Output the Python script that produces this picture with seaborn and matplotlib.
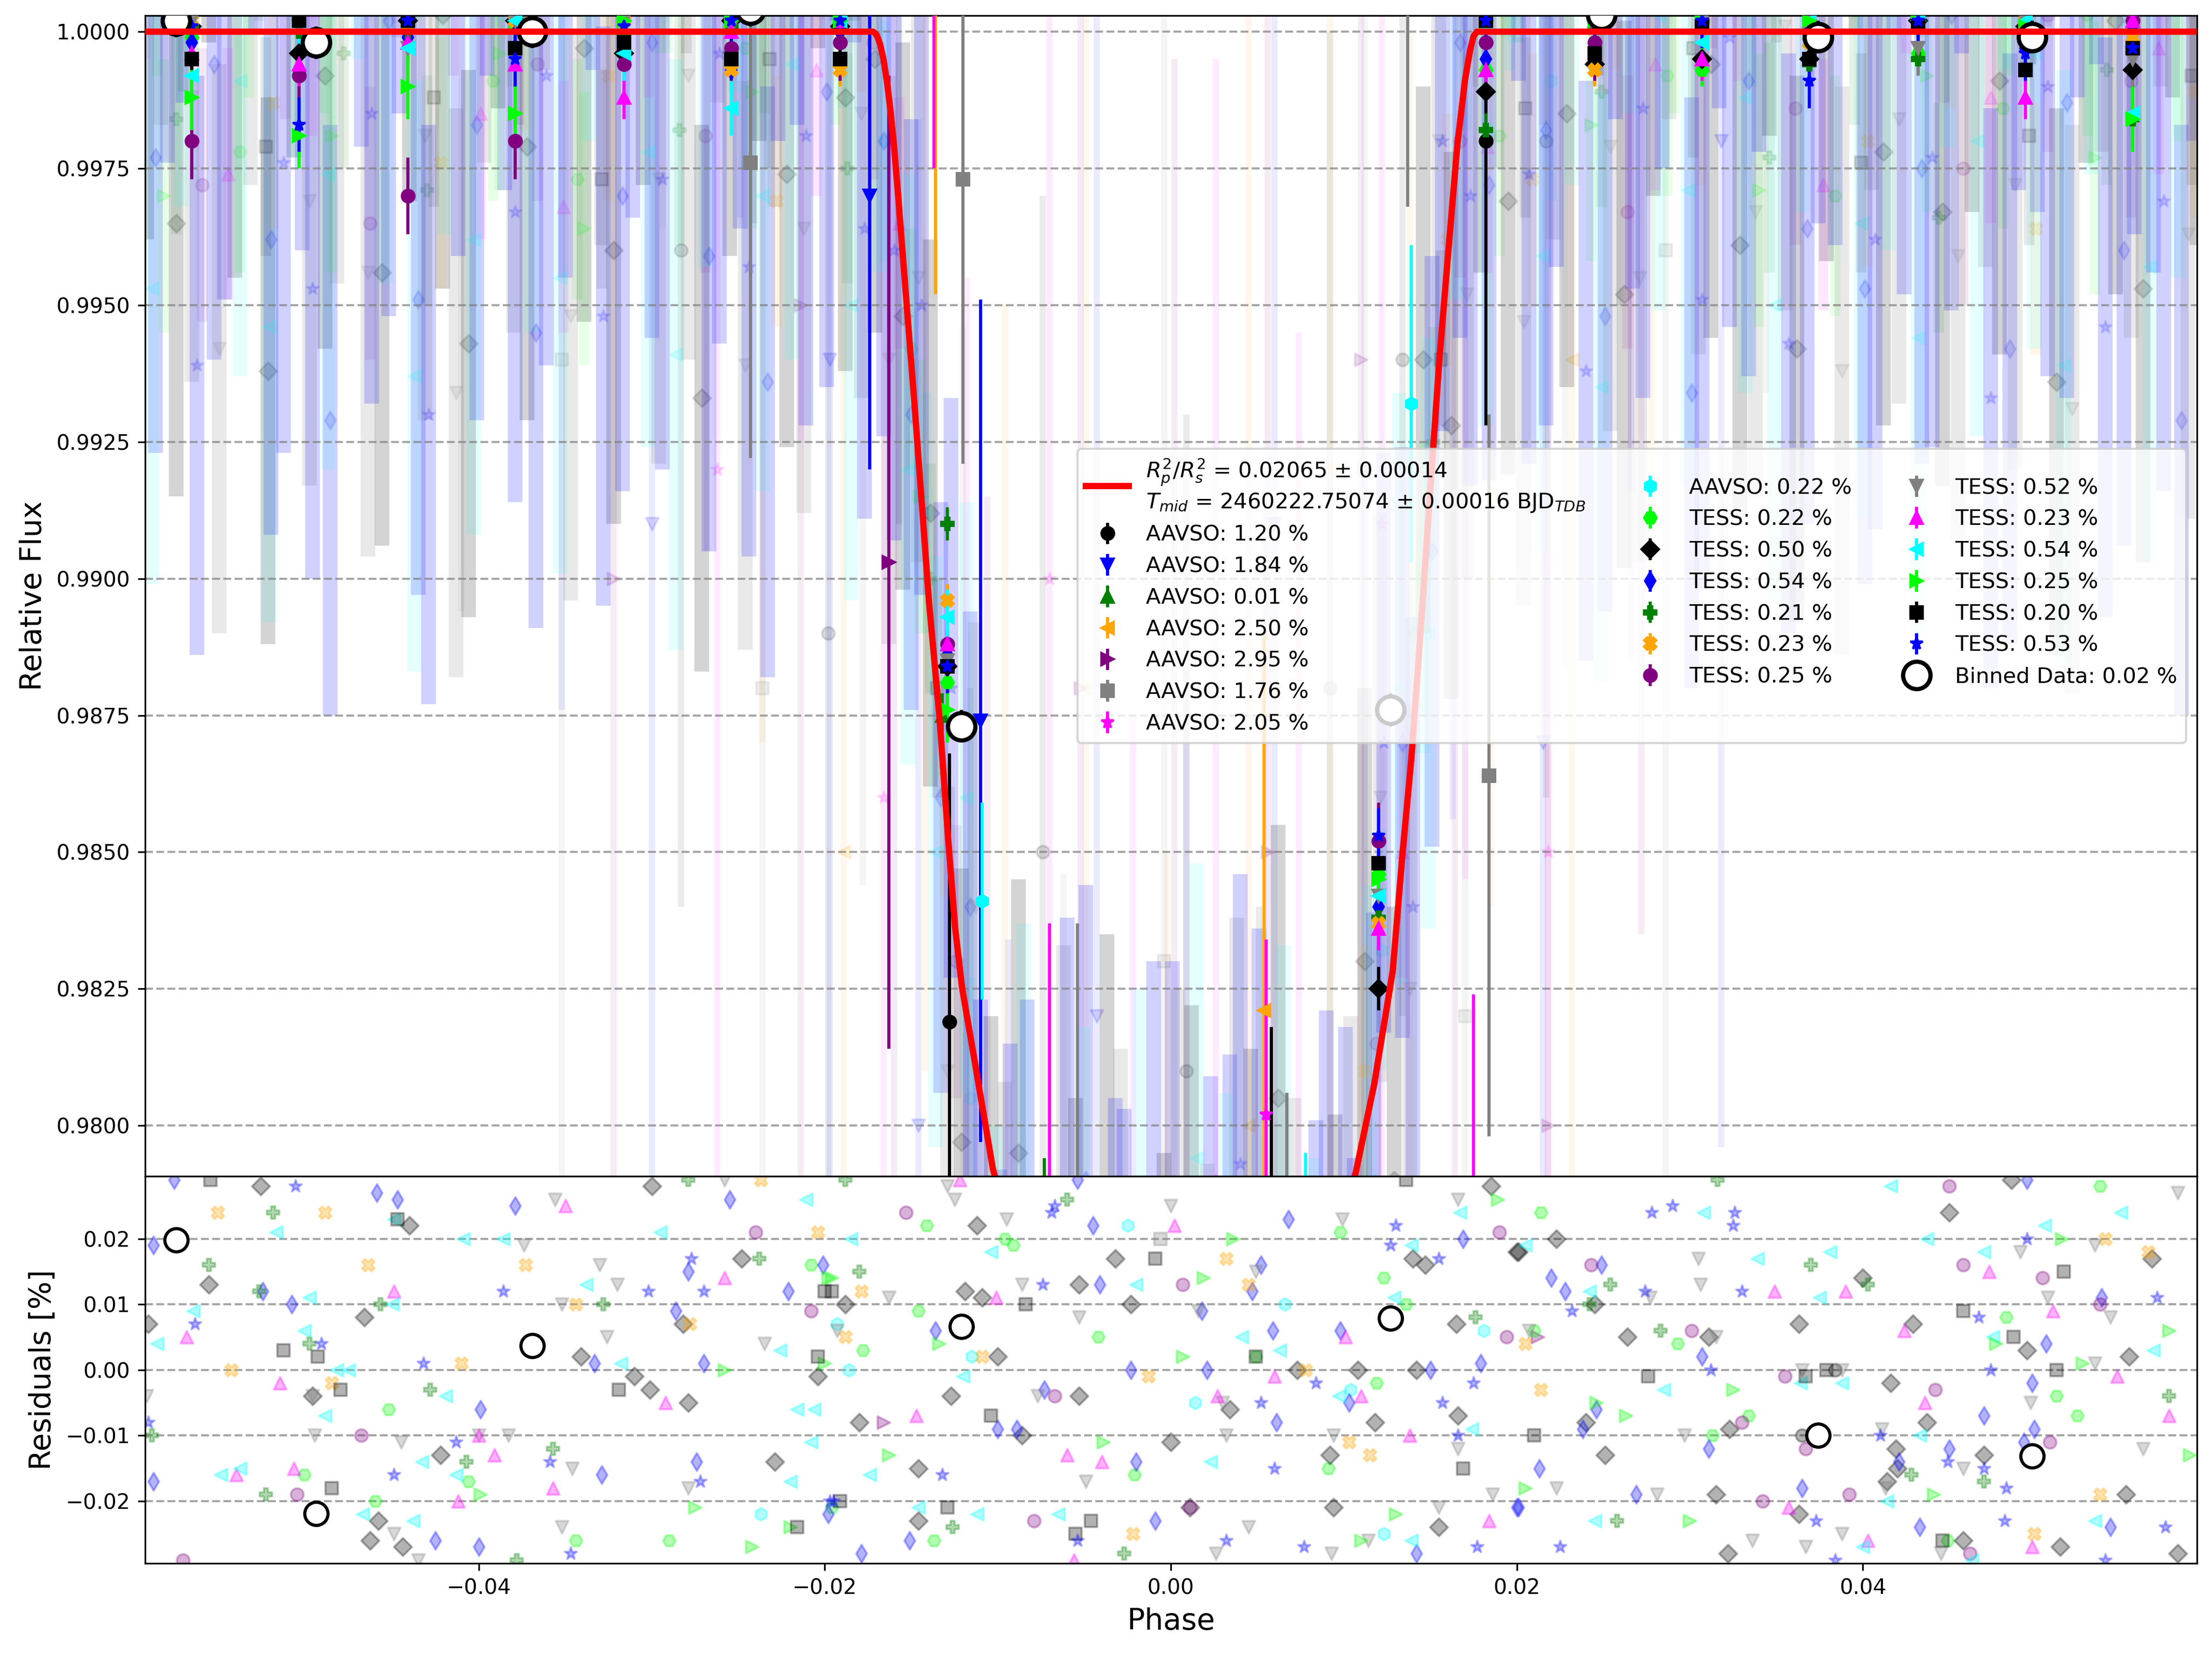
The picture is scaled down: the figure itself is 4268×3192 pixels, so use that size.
import matplotlib
matplotlib.use("Agg")
import matplotlib.pyplot as plt
from matplotlib.ticker import MultipleLocator
import numpy as np
import seaborn as sns

sns.set_style("ticks", {"axes.edgecolor": "black", "axes.labelcolor": "black",
                        "text.color": "black", "xtick.color": "black",
                        "ytick.color": "black", "axes.axisbelow": "line",
                        "lines.solid_capstyle": "projecting"})
plt.rcParams["font.family"] = ["DejaVu Sans"]
plt.rcParams["axes.linewidth"] = 0.8

# observations in legend order
obs_source = ["AAVSO"] * 8 + ["TESS"] * 12
obs_scatter = [1.20, 1.84, 0.01, 2.50, 2.95, 1.76, 2.05, 0.22, 0.22, 0.50,
               0.54, 0.21, 0.23, 0.25, 0.52, 0.23, 0.54, 0.25, 0.20, 0.53]
obs_marker = ['o', 'v', '^', '<', '>', 's', '*', 'h', 'H', 'D', 'd', 'P', 'X',
              'o', 'v', '^', '<', '>', 's', '*']
obs_color = ['black', 'blue', 'green', 'orange', 'purple', 'grey', 'magenta',
             'cyan', 'lime', 'black', 'blue', 'green', 'orange', 'purple',
             'grey', 'magenta', 'cyan', 'lime', 'black', 'blue']

fit_label = ("$R^2_p/R^2_s$ = 0.02065 ± 0.00014\n"
             "$T_{mid}$ = 2460222.75074 ± 0.00016 BJD$_{TDB}$")

# transit model
model_phase = [-0.0593, -0.0172, -0.0170, -0.0168, -0.0166, -0.0164, -0.0162,
               -0.0160, -0.01575, -0.01477, -0.01397, -0.01337, -0.01287,
               -0.01247, -0.01207, -0.01127, -0.01028, -0.0080, -0.0040, 0.0,
               0.0040, 0.0080, 0.01069, 0.01176, 0.01283, 0.01337, 0.01390,
               0.01444, 0.01497, 0.01551, 0.01605, 0.01657, 0.01701, 0.0173,
               0.0175, 0.0177, 0.0593]
model_flux = [1.0, 1.0, 0.99994, 0.99977, 0.99948, 0.99907, 0.99855, 0.99791,
              0.99696, 0.99300, 0.98955, 0.98746, 0.98524, 0.98363, 0.98253,
              0.98105, 0.97920, 0.9765, 0.9748, 0.9744, 0.9748, 0.9765, 0.97914,
              0.98076, 0.98283, 0.98489, 0.98670, 0.98904, 0.99150, 0.99395,
              0.99602, 0.99796, 0.99913, 0.99966, 0.99992, 1.0, 1.0]

# raw points: phase and flux offset, both in units of 1e-4
raw_ph_00 = [-283, -241, -198, -157, -116, -74, -33, 9, 51, 92, 134, 176, 217, 259]
raw_fx_00 = [-40, 85, -110, 30, -240, -150, -330, -190, -280, -120, -60, 110, -20, 70]
raw_ph_01 = [-352, -300, -249, -197, -146, -94, -43, 9, 60, 112, 163, 215, 266, 318]
raw_fx_01 = [60, -90, 150, -60, -200, -350, -180, -300, -90, -260, 40, -130, 100, -20]
raw_ph_03 = [-236, -189, -142, -96, -49, -2, 45, 92, 138, 185, 232, 278]
raw_fx_03 = [120, -150, 60, -300, -120, -400, -200, -80, -250, 90, -60, 150]
raw_ph_04 = [-322, -268, -214, -160, -106, -52, 2, 56, 110, 164, 218, 272]
raw_fx_04 = [-100, 200, -50, -220, -380, -120, -300, -150, -60, 80, -200, 130]
raw_ph_05 = [-410, -352, -294, -236, -178, -120, -62, -4, 54, 112, 170, 228, 286, 344]
raw_fx_05 = [70, -60, 140, -120, 20, -230, -330, -170, -260, -80, -180, 60, -40, 110]
raw_ph_06 = [-262, -214, -166, -118, -70, -22, 26, 74, 122, 170, 218, 266]
raw_fx_06 = [-80, 130, -140, -250, -100, -330, -210, -260, -90, 50, -150, 90]
raw_ph_07 = [-190, -165, -141, -116, -92, -67, 98, 122, 147, 171, 196, 220]
raw_fx_07 = [8, -20, -88, -195, -236, -244, -232, -168, -110, 4, 15, -9]
raw_ph_08 = [-586, -538, -489, -441, -392, -343, -295, -246, -197, -150, -101, -53, -4,
             44, 93, 141, 190, 238, 287, 336, 384, 433, 481, 530, 579]
raw_fx_08 = [14, -22, 7, 31, -9, -27, 18, -3, 25, -58, -262, -240, -251, -236, -247,
             -110, -19, 26, -8, 12, -30, 21, -14, 3, 28]
raw_ph_09 = [-592, -575, -556, -541, -522, -507, -489, -473, -456, -440, -421, -406,
             -389, -372, -355, -339, -322, -305, -289, -271, -255, -238, -222, -204,
             -188, -171, -155, -139, -121, -104, -88, -71, -55, -37, -21, -4, 12, 29,
             46, 62, 79, 95, 112, 129, 146, 162, 179, 195, 212, 229, 246, 262, 279,
             296, 312, 329, 346, 362, 379, 396, 412, 429, 446, 463, 479, 496, 512,
             529, 546, 562, 579, 593]
raw_fx_09 = [12, -35, 48, 5, -62, 27, -8, 71, -44, 19, 3, -57, 36, -21, 64, -3, -40,
             22, 55, -67, 9, 30, -26, 47, -12, -5, -52, -88, -203, -230, -205, -290,
             -245, -215, -300, -255, -228, -270, -236, -195, -262, -248, -170, -210,
             -60, -72, 6, -31, 58, -15, 42, -48, 20, 66, -6, -39, 31, -58, 8, 50, -22,
             75, -33, 17, -9, 44, -64, 26, 2, -47, 38, 11]
raw_ph_10 = [-587, -571, -553, -536, -520, -502, -486, -468, -452, -435, -418, -401,
             -385, -367, -350, -334, -317, -300, -283, -267, -249, -233, -216, -199,
             -183, -166, -150, -133, -116, -99, -83, -66, -49, -32, -16, 1, 17, 34,
             51, 67, 84, 101, 117, 134, 151, 167, 184, 201, 217, 234, 251, 267, 284,
             301, 317, 334, 351, 368, 384, 401, 418, 434, 451, 468, 485, 501, 518,
             535, 551, 568, 584, 591]
raw_fx_10 = [-23, 41, -6, 59, -38, 14, -71, 33, 2, -49, 68, -17, 25, -55, 9, 47, -30,
             -2, 63, -41, 18, -64, 37, -11, 52, -20, -70, -140, -160, -262, -231,
             -298, -210, -249, -277, -224, -305, -241, -218, -286, -253, -236, -215,
             -130, -95, -2, -28, 45, -18, 61, -52, 7, 29, -66, 40, -9, 73, -36, 15,
             -47, 54, -25, 3, 66, -58, 21, -13, 48, -40, 10, -71, 34]
raw_ph_11 = [-575, -527, -478, -430, -381, -332, -284, -235, -187, -139, -90, -42, 7,
             55, 104, 152, 201, 249, 298, 346, 395, 444, 492, 541, 589]
raw_fx_11 = [-16, 23, -4, -29, 11, 34, -18, 6, -25, -100, -245, -258, -238, -252,
             -243, -75, 19, -11, 28, -23, 4, -34, 15, -7, 24]
raw_ph_12 = [-567, -519, -470, -422, -373, -325, -276, -228, -179, -131, -82, -34, 15,
             63, 112, 160, 209, 257, 306, 354, 403, 451, 500, 548, 592]
raw_fx_12 = [21, -13, 30, -24, 5, -8, 27, -31, 12, -135, -249, -236, -257, -244, -190,
             -38, -27, 16, -5, 33, -20, 9, -36, 24, -11]
raw_ph_13 = [-560, -512, -463, -415, -366, -318, -269, -221, -172, -124, -75, -27, 22,
             70, 119, 167, 216, 264, 313, 361, 410, 458, 507, 555, 586]
raw_fx_13 = [-28, 9, -35, 17, -6, 32, -19, 25, -2, -170, -255, -241, -262, -238, -185,
             -20, 8, -33, 22, -14, 36, -25, 3, -9, 30]
raw_ph_14 = [-584, -566, -550, -532, -515, -498, -482, -464, -447, -431, -413, -397,
             -380, -363, -347, -329, -313, -296, -279, -262, -246, -229, -212, -195,
             -179, -163, -146, -129, -113, -96, -79, -62, -46, -29, -12, 4, 21, 38, 54,
             71, 88, 104, 121, 138, 155, 171, 188, 204, 221, 238, 254, 271, 288, 305,
             321, 338, 355, 371, 388, 405, 421, 438, 455, 471, 488, 505, 521, 538, 555,
             572, 588]
raw_fx_14 = [35, -12, -58, 24, 70, -31, 6, -44, 51, -19, -66, 28, -3, 45, -52, 13, 61,
             -27, -8, 39, -61, 20, -36, 57, -15, -60, -45, -190, -160, -244, -283,
             -219, -266, -238, -301, -227, -259, -214, -290, -247, -275, -232, -140,
             -175, -20, -48, 27, -53, 14, 68, -21, -45, 36, -7, 59, -33, 1, 47, -62,
             23, -16, 64, -41, 9, -28, 53, -69, 30, -4, 42, -37]
raw_ph_15 = [-593, -545, -496, -448, -399, -351, -302, -254, -205, -157, -108, -60,
             -11, 37, 86, 134, 183, 231, 280, 328, 377, 425, 474, 522, 571]
raw_fx_15 = [18, -26, 4, 29, -15, -32, 11, 23, -7, -35, -246, -259, -237, -250, -243,
             -150, -21, 30, -6, 14, -28, 19, -12, 26, -3]
raw_ph_16 = [-589, -572, -554, -538, -521, -505, -487, -470, -454, -437, -420, -403,
             -387, -370, -353, -336, -320, -302, -286, -269, -252, -236, -219, -202,
             -185, -168, -152, -136, -118, -101, -85, -68, -51, -35, -18, -1, 15, 32,
             49, 65, 82, 99, 115, 132, 149, 165, 182, 199, 215, 232, 249, 265, 282,
             299, 315, 332, 349, 365, 382, 399, 415, 432, 449, 466, 482, 499, 516,
             532, 549, 566, 582]
raw_fx_16 = [-47, 22, 65, -9, -54, 31, -26, 49, 8, -63, 17, -38, 56, -1, -45, 34, 70,
             -22, -59, 11, 43, -30, -6, 61, -50, 10, -80, -150, -140, -254, -217,
             -279, -236, -292, -229, -265, -206, -248, -284, -221, -260, -273, -210,
             -120, -110, 5, -18, 52, -41, 26, -65, 39, 3, -29, 58, -12, -50, 21, 67,
             -35, 14, -56, 33, -20, 47, -4, -61, 28, 55, -43, 9]
raw_ph_17 = [-582, -533, -485, -436, -388, -339, -291, -242, -194, -145, -97, -48, 0,
             49, 97, 146, 194, 243, 291, 340, 388, 437, 485, 534, 582]
raw_fx_17 = [-30, 13, -19, 27, -4, -36, 21, -11, 8, -85, -252, -240, -264, -247, -236,
             -100, 24, -17, 10, -29, 33, -8, 17, -23, 5]
raw_ph_18 = [-571, -523, -474, -426, -377, -329, -280, -232, -183, -135, -86, -38, 11,
             59, 108, 156, 205, 253, 302, 350, 399, 447, 496, 544, 590]
raw_fx_18 = [9, -21, 26, -12, 3, -27, 16, -5, 22, -120, -243, -256, -239, -248, -232,
             -60, -14, 25, -3, 18, -24, 7, -19, 29, -8]
raw_ph_19 = [-580, -563, -547, -529, -513, -496, -479, -462, -446, -429, -412, -395,
             -379, -361, -345, -328, -311, -294, -278, -261, -244, -227, -211, -193,
             -177, -160, -144, -127, -110, -93, -77, -60, -43, -27, -10, 7, 23, 40, 57,
             73, 90, 106, 123, 140, 157, 173, 190, 207, 223, 240, 257, 273, 290, 307,
             323, 340, 357, 374, 390, 407, 424, 440, 457, 474, 490, 507, 524, 540,
             557, 574, 590]
raw_fx_19 = [29, -61, 4, 53, -24, -47, 67, -15, 38, -70, 12, 45, -33, -8, 60, -52, 19,
             -27, 72, -4, -43, 33, -19, 55, -36, -40, -50, -120, -230, -238, -272,
             -215, -297, -250, -223, -281, -244, -207, -268, -296, -232, -259, -130,
             -160, -20, -30, 56, -26, 10, -62, 37, -14, 70, -49, -1, 31, -57, 18, 62,
             -38, 5, -23, 49, -67, 24, -10, 41, -54, 16, -31, 63]

# binned TESS points: shared bin phases (1e-4) and flux offsets (1e-4)
tbin_ph = [-566, -504, -441, -379, -316, -254, -191, -129, -66, -4, 58, 120, 182,
           245, 307, 369, 432, 494, 556]
tbin_fx_08 = [-1, 2, 2, 1, 2, 1, 2, -119, -242, -248, -239, -154, -7, 2, -7, 1, -4, 2, 1]
tbin_fx_09 = [1, -4, 2, 2, -4, 2, 1, -116, -238, -244, -240, -175, -11, -6, -5, -5, 2, 1, -7]
tbin_fx_10 = [-2, 2, -1, 2, 2, -7, 0, -114, -241, -246, -237, -160, -5, 2, 1, 1, 2, -3, 1]
tbin_fx_11 = [1, 0, 0, -3, -1, 1, 2, -90, -240, -247, -243, -162, -18, 1, 2, -6, -5, -7, -16]
tbin_fx_12 = [2, 2, 1, 2, 2, -7, -7, -104, -239, -245, -241, -163, 1, -7, 1, -2, 2, 2, -1]
tbin_fx_13 = [-20, -8, -30, -20, -6, -3, -2, -112, -244, -250, -236, -148, -2, -2, 2, 2, 2, 0, 2]
tbin_fx_14 = [2, 1, -3, 2, 2, 1, 2, -115, -240, -243, -241, -158, 1, 2, 2, 2, -3, 2, -5]
tbin_fx_15 = [-4, -6, -2, -6, -12, 0, 2, -112, -243, -249, -238, -164, -7, 2, -5, 2, 1, -12, 2]
tbin_fx_16 = [-8, 2, -3, 2, -4, -14, 2, -107, -238, -245, -240, -158, 1, 2, -2, 2, 2, 2, -15]
tbin_fx_17 = [-12, -19, -10, -15, 2, 2, 2, -124, -241, -247, -239, -155, 2, 2, 2, 2, 2, 1, -16]
tbin_fx_18 = [-5, 2, 2, -3, -2, -5, -5, -116, -240, -246, -240, -152, 2, -4, 1, -5, 1, -7, -3]
tbin_fx_19 = [1, -17, 2, -5, 1, 2, 2, -116, -242, -248, -239, -147, 2, 2, 2, -9, 2, -4, -3]
tbin_err = [3, 4, 5, 3, 3, 7, 5, 4, 5, 6, 2, 5]

# binned AAVSO points: phase, flux offset, error (all 1e-4)
abin_ph_00, abin_fx_00, abin_er_00 = [-128, 58, 182], [-181, -230, -20], [49, 48, 52]
abin_ph_01, abin_fx_01, abin_er_01 = [-174, -110], [-30, -126], [50, 77]
abin_ph_02, abin_fx_02, abin_er_02 = [-132, -73], [-125, -244], [4, 38]
abin_ph_03, abin_fx_03, abin_er_03 = [-136, 54], [40, -179], [88, 69]
abin_ph_04, abin_fx_04, abin_er_04 = [-163], [-97], [89]
abin_ph_05 = [-243, -120, -54, 67, 137, 184]
abin_fx_05 = [-24, -27, -235, -240, 10, -136]
abin_er_05 = [54, 52, 72, 46, 42, 66]
abin_ph_06, abin_fx_06, abin_er_06 = [-137, -70, 55, 175], [45, -230, -198, -240], [70, 67, 32, 64]
abin_ph_07, abin_fx_07, abin_er_07 = [-109, 78, 139], [-159, -250, -68], [18, 45, 29]

# all-data bins (phase 1e-4, flux offset 1e-4, residual 1e-3 %)
bd_ph = [-575, -494, -369, -243, -121, 127, 249, 374, 498]
bd_fx = [2, -2, 0, 4, -127, -124, 3, -1, -1]
bd_res = [19.8, -21.9, 3.7, 40, 6.6, 7.9, 41, -10.0, -13.1]

# residuals of single points: phase (1e-4), residual (1e-3 %)
res_ph_00, res_v_00 = [365, 384], [-10, 0]
res_ph_04, res_v_04 = [-166, 212], [-8, 5]
res_ph_05, res_v_05 = [-6], [20]
res_ph_07 = [-237, -25, 66, -193, -115, -186, 14, 104, 181, 123]
res_v_07 = [-22, 22, 10, 7, 2, 0, -5, -3, 6, -25]
res_ph_08 = [-208, -452, -501, -460, -406, -344, -290, -141, -96, -91, -146, -42, -178,
             98, 123, 136, 119, 91, -21, -137, -196, 49, 214, 537, 483, 293, 210, 334,
             313, 512, 524, 449]
res_v_08 = [16, -6, -16, -20, -17, -26, -26, 22, 20, 19, 9, 5, 3, 21, 14, 10, -2, -15,
            -16, -26, -21, 2, 24, 28, 8, 4, 6, -7, -10, -4, -7, -26]
res_ph_09 = [-526, -440, -300, -556, -248, -591, -466, -282, -341, -310, -301, -279,
             -204, -496, -422, -229, -458, -463, -444, -112, -32, -119, -109, -53, -23,
             -188, -100, 73, 108, 142, 140, 147, 165, 185, 200, -127, -53, -180, -86,
             34, 166, 118, 0, 92, -146, -146, 11, 94, 155, 486, 450, 223, 201, 400,
             245, 567, 363, 429, 264, 311, 495, 554, 416, 437, 240, 323, 251, 419, 470,
             420, 414, 315, 552, 363, 458, 514, 322, 582]
res_v_09 = [28, 22, 28, 13, 17, 7, 8, 7, 2, -1, -3, -5, -1, -4, -13, -14, -23, -26, -27,
            22, 17, 12, 11, 13, 10, 10, 2, 0, 0, 0, 17, 16, 7, 28, 18, -4, -4, -8, -10,
            -6, -7, -8, -11, -13, -15, -23, -21, -21, -24, 29, 24, 20, 18, 14, 10, 17,
            7, 7, 5, 5, 3, 2, -2, -8, -8, -9, -13, -12, -13, -15, -17, -19, -19, -22,
            -26, -27, -28, -28]
res_ph_10 = [-576, -459, -447, -379, -255, -588, -525, -508, -279, -286, -221, -201,
             -333, -270, -399, -329, -274, -588, -425, -400, -198, -54, -45, -41, -136,
             -23, 21, 52, 47, 18, 68, 59, 98, 150, 179, -73, -100, -89, 103, 61, -20,
             169, -151, -9, -179, 142, 200, 495, 249, 220, 228, 538, 307, 506, 246, 238,
             311, 498, 470, 499, 213, 450, 421, 269, 365, 433, 543, 201, 493]
res_v_10 = [29, 27, 26, 25, 26, 19, 12, 10, 15, 9, 12, 16, 1, 1, -6, -16, -14, -17, -26,
            -27, -22, 29, 22, 13, 6, 0, 0, 16, 12, 9, 23, 6, 6, 0, 1, -3, -9, -9, -5, -8,
            -14, 20, -26, -23, -28, -28, -21, 29, 16, 14, 12, 11, 2, 4, -6, -9, -12, -2,
            -7, -9, -15, -12, -14, -19, -18, -24, -24, -21, -11]
res_ph_11 = [-519, -556, -527, -457, -328, -498, -238, -428, -589, -357, -407, -523,
             -378, -279, -188, -180, -60, 176, -126, -27, 316, 370, 254, 242, 403, 283,
             428, 470, 258, 577]
res_v_11 = [24, 16, 12, 10, 10, 4, 17, -3, -10, -12, -14, -19, -29, 29, 29, 15, 26, 8,
            -24, -28, 29, 16, 13, 10, 13, 6, -16, -17, -23, -4]
res_ph_12 = [-551, -489, -464, -373, -344, -278, -543, -410, -485, -204, -237, -179,
             -188, -109, -13, 78, 45, 32, 103, 115, -22, 540, 565, 205, 214, 537, 499]
res_v_12 = [24, 24, 16, 16, 10, 7, 0, 1, -2, 21, 29, 12, 5, 2, -1, 0, 13, 17, -11, -13,
            -25, 20, 18, 4, -3, -19, -25]
res_ph_13 = [-240, -208, -468, -505, -571, -153, 7, -67, 190, 194, -79, 11, 450, 243,
             458, 504, 537, 301, 355, 442, 330, 367, 508, 392, 342, 462]
res_v_13 = [21, 9, -10, -19, -29, 24, 13, -4, 21, 5, -23, -21, 28, 16, 16, 14, 10, 6,
            -1, -3, -8, -12, -11, -19, -20, -28]
res_ph_14 = [-356, -374, -330, -320, -352, -326, -235, -495, -445, -383, -400, -346,
             -279, -449, -352, -435, -258, -592, -496, -129, -125, -95, -86, -163, -53,
             0, 99, 166, 49, 16, -193, -77, 30, 32, 94, 166, -49, 186, 155, 45, 114, 26,
             93, 582, 305, 306, 277, 491, 534, 507, 543, 207, 315, 365, 388, 534, 497,
             411, 297, 562, 223, 281, 458, 413, 336, 388, 367, 445]
res_v_14 = [26, 19, 16, 13, 10, 5, 4, -10, -11, -10, -10, -15, -18, -25, -24, -29, 29,
            -4, -4, 28, 26, 23, 13, 11, 8, 25, 23, 26, 15, 9, 6, -4, -5, -10, -10, -12,
            -17, -19, -21, -24, -26, -28, -28, 27, 17, 13, 11, 18, 19, 11, 8, 6, 5, 0,
            0, 1, -5, -9, -10, -12, -18, -19, -15, -18, -26, -25, -27, -28]
res_ph_15 = [-350, -449, -258, -569, -515, -292, -400, -391, -507, -540, -357, -412,
             -122, 2, -101, 101, 60, 27, 110, -147, -60, -40, 138, 184, -56, 349, 390,
             473, 510, 424, 547, 436, 577, 357, 403, 498]
res_v_15 = [25, 12, 14, 5, -2, -5, -10, -13, -15, -16, -18, -20, 29, 22, 11, 5, -1, -4,
            -4, -7, -13, -14, -10, -23, -29, 12, 12, 15, 9, 6, -1, -5, -7, -21, -26, -27]
res_ph_16 = [-517, -409, -386, -295, -211, -338, -498, -565, -450, -501, -586, -318,
             -226, -482, -475, -419, -489, -216, -206, -433, -208, -220, -549, -538,
             -413, -467, -438, -449, -185, -104, -20, 139, 167, 129, 41, 63, -120, 97,
             174, 23, -174, -146, -112, -65, 139, 416, 308, 549, 505, 437, 205, 381,
             339, 470, 242, 375, 475, 568, 285, 388, 364, 433, 414, 245, 534, 400, 463]
res_v_16 = [21, 20, 20, 21, 26, 13, 11, 9, 10, 6, 4, 1, 3, 0, 0, -4, -7, -6, -6, -14,
            -11, -17, -16, -15, -16, -22, -23, 23, 20, 18, 13, 19, 24, 11, 5, 3, -1, -4,
            -9, -14, -16, -21, -22, -22, -26, 28, 24, 24, 22, 20, 19, 18, 17, 18, 12,
            11, 5, 3, -3, -2, -2, -10, -20, -23, -23, -27, -29]
res_ph_17 = [-258, -198, -399, -275, -220, -242, -200, -196, -134, 19, 36, 7, 189, -39,
             -163, 130, 110, 577, 477, 527, 325, 246, 263, 205, 441, 300, 589, 515]
res_v_17 = [0, 14, -19, -21, -24, -27, 1, 14, 4, 14, 20, 2, 26, -11, -13, -22, -26, 6,
            4, 1, -3, -5, -7, -18, -19, -23, -13, 20]
res_ph_18 = [-447, -513, -493, -480, -319, -200, -204, -485, -216, -555, -9, -84, -104,
             -196, 169, -191, -129, -46, -55, 136, 49, 516, 458, 487, 276, 367, 379,
             512, 210, 446]
res_v_18 = [23, 3, 2, -3, -3, 12, 2, -18, -24, 29, 17, 10, -7, 12, -15, -20, -21, -23,
            -25, 29, 2, 15, 9, 5, -1, -1, 0, 0, -10, -26]
res_ph_19 = [-506, -564, -491, -386, -302, -277, -270, -432, -413, -359, -449, -272,
             -347, -591, -197, -67, -69, -74, 130, 127, 155, 84, 175, 157, 52, 166, -132,
             60, -54, 32, 77, 177, -195, 278, 290, 326, 325, 274, 330, 232, 495, 570,
             467, 312, 474, 410, 449, 470, 483, 373, 482, 575, 225, 384, 540]
res_v_19 = [28, 7, 4, 12, 12, 17, 12, 1, -11, -14, -16, -17, -28, -8, -20, 25, 24, 13,
            22, 19, 17, -2, -2, -5, -5, -10, -16, -15, -26, -26, -27, -27, -20, 24, 25,
            24, 22, 12, 12, 9, 20, 11, 8, 0, 0, -10, -14, -15, -18, -23, -23, -24, -27,
            -29, -29]

raw_sets = {0: (raw_ph_00, raw_fx_00), 1: (raw_ph_01, raw_fx_01),
            3: (raw_ph_03, raw_fx_03), 4: (raw_ph_04, raw_fx_04),
            5: (raw_ph_05, raw_fx_05), 6: (raw_ph_06, raw_fx_06),
            7: (raw_ph_07, raw_fx_07), 8: (raw_ph_08, raw_fx_08),
            9: (raw_ph_09, raw_fx_09), 10: (raw_ph_10, raw_fx_10),
            11: (raw_ph_11, raw_fx_11), 12: (raw_ph_12, raw_fx_12),
            13: (raw_ph_13, raw_fx_13), 14: (raw_ph_14, raw_fx_14),
            15: (raw_ph_15, raw_fx_15), 16: (raw_ph_16, raw_fx_16),
            17: (raw_ph_17, raw_fx_17), 18: (raw_ph_18, raw_fx_18),
            19: (raw_ph_19, raw_fx_19)}
tess_bins = [tbin_fx_08, tbin_fx_09, tbin_fx_10, tbin_fx_11, tbin_fx_12, tbin_fx_13,
             tbin_fx_14, tbin_fx_15, tbin_fx_16, tbin_fx_17, tbin_fx_18, tbin_fx_19]
aavso_bins = [(abin_ph_00, abin_fx_00, abin_er_00), (abin_ph_01, abin_fx_01, abin_er_01),
              (abin_ph_02, abin_fx_02, abin_er_02), (abin_ph_03, abin_fx_03, abin_er_03),
              (abin_ph_04, abin_fx_04, abin_er_04), (abin_ph_05, abin_fx_05, abin_er_05),
              (abin_ph_06, abin_fx_06, abin_er_06), (abin_ph_07, abin_fx_07, abin_er_07)]
res_sets = {0: (res_ph_00, res_v_00), 4: (res_ph_04, res_v_04), 5: (res_ph_05, res_v_05),
            7: (res_ph_07, res_v_07), 8: (res_ph_08, res_v_08), 9: (res_ph_09, res_v_09),
            10: (res_ph_10, res_v_10), 11: (res_ph_11, res_v_11),
            12: (res_ph_12, res_v_12), 13: (res_ph_13, res_v_13),
            14: (res_ph_14, res_v_14), 15: (res_ph_15, res_v_15),
            16: (res_ph_16, res_v_16), 17: (res_ph_17, res_v_17),
            18: (res_ph_18, res_v_18), 19: (res_ph_19, res_v_19)}

fig = plt.figure(figsize=(4268 / 293, 3192 / 293), dpi=293)
gs = fig.add_gridspec(2, 1, height_ratios=[3, 1], hspace=0, left=0.0655,
                      right=0.9931, top=0.9906, bottom=0.0548)
ax = fig.add_subplot(gs[0])
axr = fig.add_subplot(gs[1], sharex=ax)

# raw data, faint
for i, (ph, fx) in raw_sets.items():
    x = np.array(ph) * 1e-4
    y = 1 + np.array(fx) * 1e-4
    err = obs_scatter[i] / 100
    if obs_source[i] == "AAVSO" and obs_scatter[i] > 1:
        lw, a = 3.0, 0.08
    elif obs_scatter[i] < 0.4:
        lw, a = 5.0, 0.09
    elif obs_color[i] == 'cyan':
        lw, a = 7.0, 0.10
    elif obs_color[i] == 'blue':
        lw, a = 7.0, 0.18
    else:
        lw, a = 7.0, 0.17
    ax.errorbar(x, y, yerr=err, fmt='none', ecolor=obs_color[i], elinewidth=lw,
                alpha=a, zorder=1)
    sns.scatterplot(x=x, y=y, marker=obs_marker[i], color=obs_color[i],
                    edgecolor=obs_color[i], linewidth=1, s=36, alpha=0.13,
                    ax=ax, zorder=1)

# binned points per observation
handles = []
for i in range(20):
    label = f"{obs_source[i]}: {obs_scatter[i]:.2f} %"
    if i < 8:
        ph, fx, er = aavso_bins[i]
        x = np.array(ph) * 1e-4
        y = 1 + np.array(fx) * 1e-4
        e = np.array(er) * 1e-4
    else:
        x = np.array(tbin_ph) * 1e-4
        y = 1 + np.array(tess_bins[i - 8]) * 1e-4
        e = tbin_err[i - 8] * 1e-4
    h = ax.errorbar(x, y, yerr=e, fmt=obs_marker[i], color=obs_color[i], ms=6,
                    ls='none', zorder=3, label=label)
    handles.append(h)

hb = ax.errorbar(np.array(bd_ph) * 1e-4, 1 + np.array(bd_fx) * 1e-4, yerr=0.0003,
                 fmt='o', mfc='white', mec='black', ecolor='black', ms=13, mew=2,
                 zorder=4, label="Binned Data: 0.02 %")

sns.lineplot(x=model_phase, y=model_flux, color='red', lw=3, sort=False,
             estimator=None, ax=ax, zorder=5)
model_line = ax.lines[-1]
model_line.set_solid_joinstyle('round')

ax.legend([model_line] + handles + [hb],
          [fit_label] + [h.get_label() for h in handles] + [hb.get_label()],
          loc='center right', ncol=3, fontsize=10.2)

# residuals
for i, (ph, v) in res_sets.items():
    sns.scatterplot(x=np.array(ph) * 1e-4, y=np.array(v) * 1e-3,
                    marker=obs_marker[i], color=obs_color[i],
                    edgecolor=obs_color[i], linewidth=1, s=36, alpha=0.3,
                    ax=axr, zorder=2)
axr.plot(np.array(bd_ph) * 1e-4, np.array(bd_res) * 1e-3, 'o', mfc='white',
         mec='black', ms=11, mew=1.5, zorder=4)

ax.set_xlim(-0.0593, 0.0593)
ax.set_ylim(0.97907, 1.000295)
axr.set_ylim(-0.0295, 0.0295)
ax.yaxis.set_major_locator(MultipleLocator(0.0025))
ax.ticklabel_format(axis='y', useOffset=False)
axr.yaxis.set_major_locator(MultipleLocator(0.01))
ax.tick_params(axis='x', bottom=False, labelbottom=False)
for a_ in (ax, axr):
    a_.grid(True, axis='y', ls='--', color='grey', alpha=0.7, lw=1)
    a_.grid(False, axis='x')

ax.set_ylabel("Relative Flux", fontsize=14)
axr.set_ylabel("Residuals [%]", fontsize=14)
axr.set_xlabel("Phase", fontsize=14)

fig.savefig("out.png", dpi=293)
